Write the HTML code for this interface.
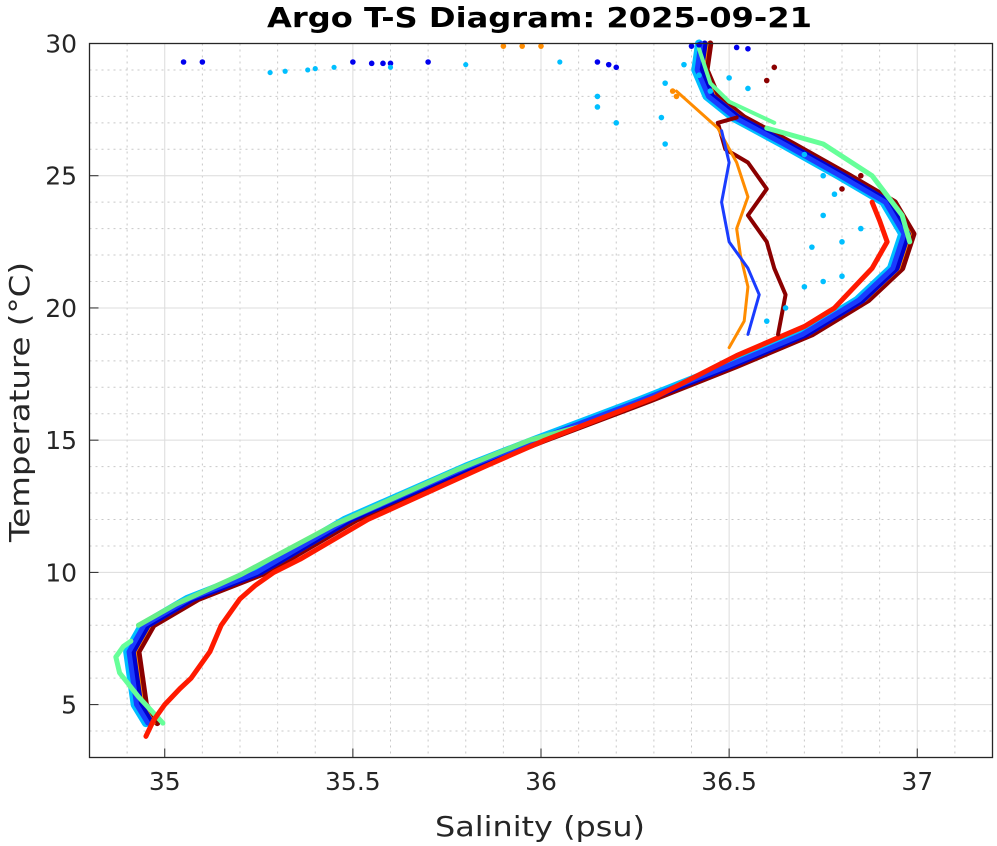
<!DOCTYPE html>
<html><head><style>
body{margin:0;background:#fff;}
svg{display:block;font-family:"DejaVu Sans","Liberation Sans",sans-serif;}
</style></head><body>
<svg id="s" width="997" height="846" xmlns="http://www.w3.org/2000/svg">
<rect width="997" height="846" fill="#fff"/>
<g id="grid"></g>
<g id="data"></g>
<rect x="89.5" y="43.5" width="903" height="714" fill="none" stroke="#262626" stroke-width="1.3"/>
<g id="ticks"></g>
<text x="267" y="27" font-size="28" font-weight="bold" textLength="545" lengthAdjust="spacingAndGlyphs" fill="#000">Argo T-S Diagram: 2025-09-21</text>
<text x="435" y="836" font-size="28" textLength="210" lengthAdjust="spacingAndGlyphs" fill="#262626">Salinity (psu)</text>
<text transform="translate(29,542) rotate(-90)" font-size="28" textLength="280" lengthAdjust="spacingAndGlyphs" fill="#262626">Temperature (°C)</text>
</svg>
<script>
const X0=34.8,X1=37.2,Y0=3,Y1=30,L=89.5,R=992.5,T=43.5,B=757.5;
const px=s=>L+(s-X0)/(X1-X0)*(R-L), py=t=>B-(t-Y0)/(Y1-Y0)*(B-T);
const NS="http://www.w3.org/2000/svg";
function el(p,n,a){const e=document.createElementNS(NS,n);for(const k in a)e.setAttribute(k,a[k]);p.appendChild(e);return e;}
const g=document.getElementById('grid'),tk=document.getElementById('ticks'),d=document.getElementById('data');
for(let i=1;i<24;i++){const s=X0+i*0.1;const x=px(s);const maj=Math.abs(s*2-Math.round(s*2))<1e-6;
 el(g,'line',{x1:x,x2:x,y1:T,y2:B,stroke:maj?'#dcdcdc':'#c8c8c8','stroke-width':1,'stroke-dasharray':maj?'':'2,4'});}
for(let t=4;t<30;t++){const y=py(t);const maj=t%5==0;
 el(g,'line',{x1:L,x2:R,y1:y,y2:y,stroke:maj?'#dcdcdc':'#c8c8c8','stroke-width':1,'stroke-dasharray':maj?'':'2,4'});}
[35,35.5,36,36.5,37].forEach(s=>{const x=px(s);el(tk,'line',{x1:x,x2:x,y1:B,y2:B-9,stroke:'#262626'});
 const t=el(tk,'text',{x:x,y:790,'font-size':25,'text-anchor':'middle',fill:'#262626'});t.textContent=s;});
[5,10,15,20,25,30].forEach(v=>{const y=py(v);el(tk,'line',{x1:L,x2:L+9,y1:y,y2:y,stroke:'#262626'});
 const t=el(tk,'text',{x:77,y:y+9,'font-size':25,'text-anchor':'end',fill:'#262626'});t.textContent=v;});
function line(pts,c,w,off){const p=pts.map(q=>px(q[0]+(off||0))+','+py(q[1])).join(' ');
 el(d,'polyline',{points:p,fill:'none',stroke:c,'stroke-width':w,'stroke-linejoin':'round','stroke-linecap':'round'});}
function dots(pts,c,r){pts.forEach(q=>el(d,'circle',{cx:px(q[0]),cy:py(q[1]),r:r||2.8,fill:c}));}
const main=[[34.96,4.3],[34.93,5],[34.92,6],[34.91,7],[34.95,8],[35.07,9],[35.25,10],[35.49,12],[35.81,14],[35.99,15],[36.27,16.5],[36.5,17.8],[36.7,19],[36.85,20.3],[36.94,21.5],[36.97,22.8],[36.92,24],[36.8,25],[36.65,26.2],[36.52,27.2],[36.45,28],[36.42,29],[36.43,30]];
line(main,'#8b0000',6,0.02);
line(main,'#ff8c00',4,0.01);
line(main,'#00bfff',8,-0.01);
line(main,'#0000cd',6,0.005);
line(main,'#1a3cff',5,-0.005);
// green
line([[34.995,4.3],[34.93,5.3],[34.88,6.2],[34.87,6.8],[34.89,7.2],[34.91,7.4]],'#66ff99',5);
line([[34.93,8.0],[35.03,8.8],[35.2,9.9],[35.45,11.8],[35.78,13.9],[35.97,15],[36.1,15.5]],'#66ee88',5);
line([[36.6,26.8],[36.75,26.2],[36.88,25],[36.96,23.5],[36.98,22.5]],'#66ff99',5);
line([[36.42,29.8],[36.45,28.5],[36.5,27.8],[36.62,27]],'#66ff99',4);
// red
line([[34.95,3.8],[34.97,4.4],[35.0,5],[35.04,5.6],[35.07,6],[35.12,7],[35.15,8],[35.2,9],[35.24,9.5],[35.29,10],[35.36,10.5],[35.54,12],[35.85,14],[36.01,15],[36.3,16.6],[36.52,18.2],[36.7,19.3],[36.78,20],[36.88,21.5],[36.92,22.5],[36.9,23.3],[36.88,24]],'#ff1a00',5);
// dark red branch
line([[36.63,19],[36.65,20.5],[36.62,21.5],[36.6,22.5],[36.55,23.5],[36.6,24.5],[36.55,25.5],[36.49,26],[36.47,27],[36.52,27.2]],'#8b0000',4);
// orange branch
line([[36.5,18.5],[36.54,19.5],[36.55,20.8],[36.53,22],[36.52,23],[36.55,24.2],[36.52,25.5],[36.47,26.8],[36.36,28.2]],'#ff8c00',3);
// blue branch
line([[36.55,19],[36.58,20.5],[36.55,21.5],[36.5,22.5],[36.48,24],[36.5,25.5],[36.48,26.7]],'#1a3cff',3);
// cyan scatter
dots([[36.6,19.5],[36.65,20],[36.7,20.8],[36.75,21],[36.8,21.2],[36.72,22.3],[36.75,23.5],[36.78,24.3],[36.75,25],[36.7,25.8],[36.8,22.5],[36.85,23],[36.33,26.2],[36.32,27.2],[36.33,28.5],[36.38,29.2],[36.42,28.8],[36.45,28.2],[36.55,28.3],[36.5,28.7],[36.15,28],[36.15,27.6],[36.2,27]],'#00bfff',2.8);
// top scatter
dots([[35.05,29.3],[35.1,29.3],[35.55,29.25],[35.58,29.25],[35.6,29.25],[35.5,29.3],[35.7,29.3],[36.15,29.3],[36.18,29.2],[36.2,29.1],[36.4,29.9],[36.42,29.95],[36.52,29.85],[36.55,29.8]],'#0000ee',2.8);
dots([[35.28,28.9],[35.32,28.95],[35.38,29.0],[35.4,29.05],[35.45,29.1],[35.6,29.1],[35.8,29.2],[36.05,29.3]],'#00bfff',2.6);
dots([[35.9,29.9],[35.95,29.9],[36.0,29.9],[36.35,28.2],[36.36,28.0]],'#ff8c00',2.8);
dots([[36.62,29.1],[36.6,28.6],[36.85,25],[36.8,24.5]],'#8b0000',2.8);
</script>
</body></html>
